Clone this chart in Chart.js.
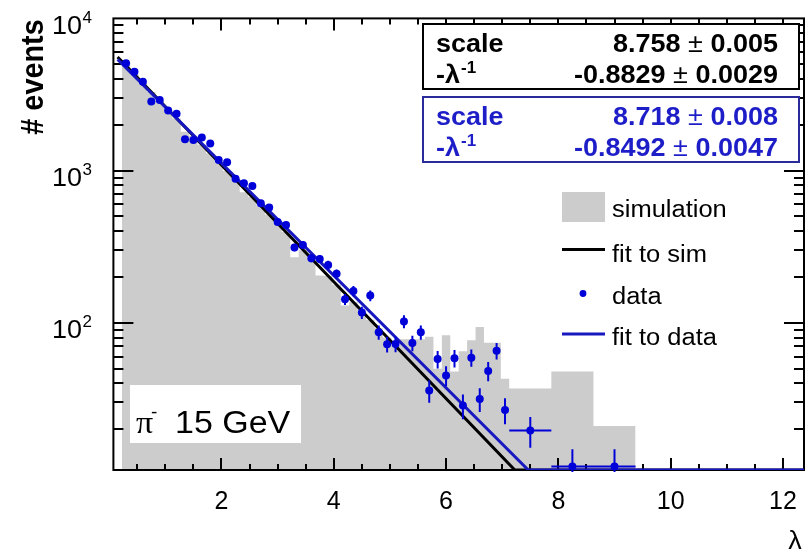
<!DOCTYPE html>
<html>
<head>
<meta charset="utf-8">
<script src="https://cdn.jsdelivr.net/npm/chart.js@4.4.1/dist/chart.umd.min.js"></script>
<style>
  html, body { margin: 0; padding: 0; background: #fff; }
</style>
</head>
<body>
<canvas id="c" width="808" height="552"></canvas>
<script>
// bins in lambda (centres and full widths)
const binCenters = [0.3, 0.45, 0.6, 0.75, 0.9, 1.05, 1.2, 1.35, 1.5, 1.65, 1.8, 1.95, 2.1, 2.25, 2.4, 2.55,
  2.7, 2.85, 3.0, 3.15, 3.3, 3.45, 3.6, 3.75, 3.9, 4.05, 4.2, 4.35, 4.5, 4.65, 4.8, 4.95, 5.1, 5.25,
  5.4, 5.55, 5.7, 5.85, 6.0, 6.15, 6.3, 6.45, 6.6, 6.75, 6.9, 7.05, 7.5, 8.25, 9.0];
const binWidths = [0.15, 0.15, 0.15, 0.15, 0.15, 0.15, 0.15, 0.15, 0.15, 0.15, 0.15, 0.15, 0.15, 0.15, 0.15, 0.15,
  0.15, 0.15, 0.15, 0.15, 0.15, 0.15, 0.15, 0.15, 0.15, 0.15, 0.15, 0.15, 0.15, 0.15, 0.15, 0.15, 0.15, 0.15,
  0.15, 0.15, 0.15, 0.15, 0.15, 0.15, 0.15, 0.15, 0.15, 0.15, 0.15, 0.15, 0.75, 0.75, 0.75];

// simulation histogram
const simCounts = [5200, 4300, 3750, 3280, 2870, 2520, 2200, 1800, 1690, 1480, 1300, 1140, 995, 875, 720, 670,
  585, 515, 450, 395, 270, 300, 265, 205, 203, 178, 130, 137, 120, 105, 92, 80, 71, 78,
  78, 78, 81, 50, 83, 48, 65, 77, 94, 74, 74, 43, 37, 48, 21];

// data points
const dataCounts = [5070, 4470, 3840, 2840, 2910, 2480, 2360, 1610, 1590, 1650, 1510, 1175, 1135, 883, 827, 793,
  611, 573, 460, 440, 313, 325, 266, 263, 240, 210, 143, 162, 117, 151, 86.8, 72.4, 72.7, 102,
  73.6, 86.8, 35.9, 57.8, 45.1, 58.6, 28.6, 59.1, 31.6, 48.3, 65.5, 26.8, 19.6, 11.4, 11.4];
const dataErrors = [71, 67, 62, 53, 54, 50, 49, 40, 40, 41, 39, 34, 34, 30, 29, 28,
  25, 24, 21, 21, 18, 18, 16, 16, 15.5, 14.5, 12, 12.7, 10.8, 12.3, 9.3, 8.5, 8.5, 10,
  8.6, 9.3, 6, 7.6, 6.7, 7.7, 5.3, 7.7, 5.6, 7, 8.1, 5.2, 4.5, 3.4, 3.4];
const dataXErrors = [0, 0, 0, 0, 0, 0, 0, 0, 0, 0, 0, 0, 0, 0, 0, 0,
  0, 0, 0, 0, 0, 0, 0, 0, 0, 0, 0, 0, 0, 0, 0, 0, 0, 0,
  0, 0, 0, 0, 0, 0, 0, 0, 0, 0, 0, 0, 0.375, 0.375, 0.375];

// exponential fits: [scale, -1/lambda]
const fitSimParams = [8.758, -0.8829];
const fitDataParams = [8.718, -0.8492];
const fitRange = [0.15, 12.375];

const xRange = [0.075, 12.375];
const yRange = [10.8, 10000];
const xTicks = [2, 4, 6, 8, 10, 12];
const yDecades = [100, 1000, 10000];
const yExponents = ['2', '3', '4'];

const FONT = "'Liberation Sans', Arial, sans-serif";
const SQ = 0.93;
const GREY = '#cccccc';
const DATA_BLUE = '#0000d8';
const FIT_BLUE = '#1818c0';
const TEXT_BLUE = '#1e1ec8';

// histogram as a stepped outline: left edges + closing right edge
const histPts = binCenters.map((c, i) => ({ x: c - binWidths[i] / 2, y: simCounts[i] }));
const nb = binCenters.length - 1;
histPts.push({ x: binCenters[nb] + binWidths[nb] / 2, y: simCounts[nb] });

const dataPts = binCenters.map((c, i) => ({ x: c, y: dataCounts[i] }));

// fit function, cut at the bottom of the frame like ROOT does
function fitLine(p) {
  const f = x => Math.exp(p[0] + p[1] * x);
  const xHit = (p[0] - Math.log(yRange[0])) / -p[1];
  return [
    { x: fitRange[0], y: f(fitRange[0]) },
    { x: xHit, y: yRange[0] },
    { x: fitRange[1], y: yRange[0] }
  ];
}

function txt(ctx, s, x, y, size, o) {
  o = o || {};
  ctx.save();
  ctx.translate(x, y);
  ctx.scale(1, SQ);
  if (o.rotate) ctx.rotate(o.rotate);
  ctx.font = (o.bold ? 'bold ' : '') + size + 'px ' + (o.family || FONT);
  ctx.fillStyle = o.color || '#000';
  ctx.textAlign = o.align || 'left';
  ctx.textBaseline = 'alphabetic';
  ctx.fillText(s, 0, 0);
  const w = ctx.measureText(s).width;
  ctx.restore();
  return w;
}

function measure(ctx, s, size, bold) {
  ctx.save();
  ctx.font = (bold ? 'bold ' : '') + size + 'px ' + FONT;
  const w = ctx.measureText(s).width;
  ctx.restore();
  return w;
}

// frame and inward ticks on all four sides
function drawFrame(chart) {
  const { ctx, chartArea: a, scales: { x, y } } = chart;
  ctx.save();
  ctx.strokeStyle = '#000';
  ctx.lineWidth = 2;
  ctx.beginPath();
  for (let v = 0.5; v <= xRange[1]; v += 0.5) {
    const px = Math.round(x.getPixelForValue(v));
    const len = (v % 2 === 0) ? 12 : 6;
    ctx.moveTo(px, a.bottom); ctx.lineTo(px, a.bottom - len);
    ctx.moveTo(px, a.top); ctx.lineTo(px, a.top + len);
  }
  [10, 100, 1000].forEach(d => {
    for (let m = 1; m <= 9; m++) {
      const v = m * d;
      if (v < yRange[0] || v > yRange[1]) continue;
      const py = Math.round(y.getPixelForValue(v));
      const len = m === 1 ? 20 : 10;
      ctx.moveTo(a.left, py); ctx.lineTo(a.left + len, py);
      ctx.moveTo(a.right, py); ctx.lineTo(a.right - len, py);
    }
  });
  ctx.stroke();
  ctx.strokeRect(a.left, a.top, a.right - a.left, a.bottom - a.top);
  ctx.restore();
}

function drawErrorBars(chart) {
  const { ctx, chartArea: a, scales: { x, y } } = chart;
  ctx.save();
  ctx.beginPath();
  ctx.rect(a.left, a.top, a.right - a.left, a.bottom - a.top + 2);
  ctx.clip();
  ctx.strokeStyle = DATA_BLUE;
  ctx.lineWidth = 2;
  ctx.beginPath();
  binCenters.forEach((c, i) => {
    const px = x.getPixelForValue(c);
    const hi = y.getPixelForValue(dataCounts[i] + dataErrors[i]);
    const lo = dataCounts[i] - dataErrors[i] > 1 ? y.getPixelForValue(dataCounts[i] - dataErrors[i]) : a.bottom + 5;
    ctx.moveTo(px, hi); ctx.lineTo(px, lo);
    if (dataXErrors[i] > 0) {
      const py = y.getPixelForValue(dataCounts[i]);
      ctx.moveTo(x.getPixelForValue(c - dataXErrors[i]), py);
      ctx.lineTo(x.getPixelForValue(c + dataXErrors[i]), py);
    }
  });
  ctx.stroke();
  ctx.restore();
}

function statBox(ctx, top, border, color, rows) {
  ctx.save();
  ctx.fillStyle = '#fff';
  ctx.fillRect(423, top, 376, 65);
  ctx.strokeStyle = border;
  ctx.lineWidth = 2;
  ctx.strokeRect(423, top, 376, 65);
  ctx.restore();
  rows.forEach((r, k) => {
    const base = top + 28 + k * 30.5;
    if (k === 0) {
      txt(ctx, 'scale', 436, base, 27, { bold: true, color });
    } else {
      const w = txt(ctx, '-\u03bb', 436, base, 27, { bold: true, color });
      txt(ctx, '-1', 437 + w, base - 10, 17, { bold: true, color });
    }
    const right = 778;
    const wErr = measure(ctx, r[1], 27, true);
    txt(ctx, r[1], right, base, 27, { bold: true, color, align: 'right' });
    const wPm = measure(ctx, ' \u00b1 ', 27, false);
    txt(ctx, ' \u00b1 ', right - wErr, base, 27, { color, align: 'right' });
    txt(ctx, r[0], right - wErr - wPm, base, 27, { bold: true, color, align: 'right' });
  });
}

const overlay = {
  id: 'overlay',
  afterDatasetDraw(chart, args) {
    if (args.index === 0) drawFrame(chart);
  },
  afterDatasetsDraw(chart) {
    drawErrorBars(chart);
  },
  afterDraw(chart) {
    const { ctx, scales: { y } } = chart;

    // y tick labels 10^n
    yDecades.forEach((v, i) => {
      const py = y.getPixelForValue(v);
      txt(ctx, '10', 82, py + 15.5, 27, { align: 'right' });
      txt(ctx, yExponents[i], 82.5, py + 4.5, 17);
    });

    // axis titles
    txt(ctx, '# events', 43, 77, 31, { bold: true, align: 'center', rotate: -Math.PI / 2 });
    txt(ctx, '\u03bb', 795, 549, 27, { align: 'center' });

    // fit result boxes
    statBox(ctx, 24, '#000', '#000', [['8.758', '0.005'], ['-0.8829', '0.0029']]);
    statBox(ctx, 97, '#2a2a9a', TEXT_BLUE, [['8.718', '0.008'], ['-0.8492', '0.0047']]);

    // legend
    ctx.save();
    ctx.fillStyle = GREY;
    ctx.fillRect(562, 192, 43, 30);
    ctx.lineWidth = 3;
    ctx.strokeStyle = '#000';
    ctx.beginPath(); ctx.moveTo(562, 249.5); ctx.lineTo(605, 249.5); ctx.stroke();
    ctx.strokeStyle = FIT_BLUE;
    ctx.beginPath(); ctx.moveTo(562, 334); ctx.lineTo(605, 334); ctx.stroke();
    ctx.fillStyle = DATA_BLUE;
    ctx.beginPath(); ctx.arc(583, 293.5, 3.4, 0, 2 * Math.PI); ctx.fill();
    ctx.restore();
    txt(ctx, 'simulation', 612, 217, 25.5);
    txt(ctx, 'fit to sim', 612, 261.5, 25.5);
    txt(ctx, 'data', 612, 303.5, 25.5);
    txt(ctx, 'fit to data', 612, 345, 25.5);

    // beam label
    ctx.save();
    ctx.fillStyle = '#fff';
    ctx.fillRect(130, 385, 171, 58);
    ctx.restore();
    txt(ctx, '\u03c0', 136, 432.5, 34, { family: "'Liberation Serif', serif" });
    txt(ctx, '-', 151, 418, 19);
    txt(ctx, '15 GeV', 175, 432.5, 34);
  }
};

new Chart(document.getElementById('c'), {
  type: 'line',
  data: {
    datasets: [
      {
        label: 'simulation',
        data: histPts,
        stepped: true,
        fill: 'start',
        backgroundColor: GREY,
        borderColor: 'rgba(0,0,0,0)',
        borderWidth: 0,
        pointRadius: 0,
        order: 4
      },
      {
        label: 'fit to sim',
        data: fitLine(fitSimParams),
        borderColor: '#000',
        borderWidth: 3,
        pointRadius: 0,
        fill: false,
        order: 3
      },
      {
        label: 'fit to data',
        data: fitLine(fitDataParams),
        borderColor: FIT_BLUE,
        borderWidth: 3,
        pointRadius: 0,
        fill: false,
        order: 2
      },
      {
        type: 'scatter',
        label: 'data',
        data: dataPts,
        pointRadius: 4,
        pointBackgroundColor: DATA_BLUE,
        pointBorderWidth: 0,
        order: 1
      }
    ]
  },
  options: {
    responsive: false,
    animation: false,
    events: [],
    layout: { padding: { top: 18.4, right: 0, left: 0, bottom: 0 } },
    plugins: { legend: { display: false }, tooltip: { enabled: false } },
    scales: {
      x: {
        type: 'linear',
        min: xRange[0],
        max: xRange[1],
        grid: { display: false, drawTicks: false },
        border: { display: false },
        afterBuildTicks: ax => { ax.ticks = xTicks.map(v => ({ value: v })); },
        ticks: {
          font: { family: FONT, size: 25 },
          color: '#000',
          padding: 17,
          maxRotation: 0,
          autoSkip: false,
          callback: v => String(v)
        },
        afterFit: ax => { ax.height = 82; ax.paddingLeft = 0; ax.paddingRight = 0; }
      },
      y: {
        type: 'logarithmic',
        min: yRange[0],
        max: yRange[1],
        grid: { display: false, drawTicks: false },
        border: { display: false },
        ticks: { display: false },
        afterFit: ax => { ax.width = 113.4; ax.paddingTop = 0; ax.paddingBottom = 0; }
      }
    }
  },
  plugins: [overlay]
});
</script>
</body>
</html>
